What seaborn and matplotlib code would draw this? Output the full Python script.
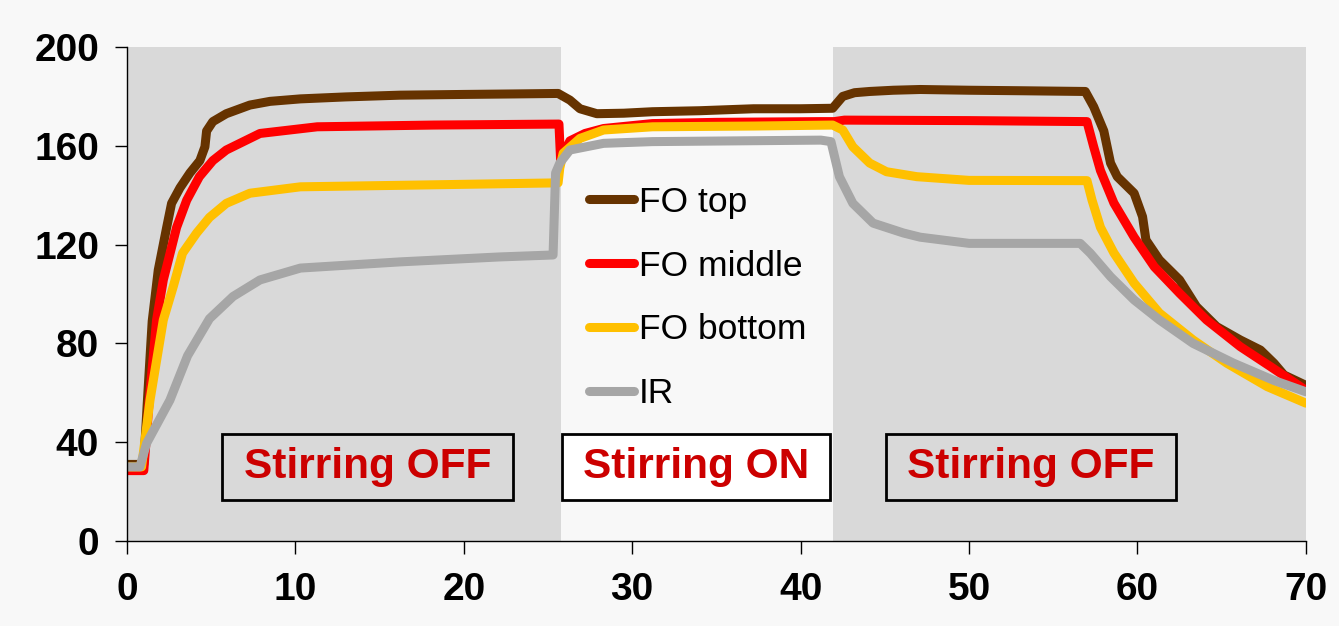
import matplotlib
matplotlib.use("Agg")
import pandas as pd
import matplotlib.pyplot as plt
import seaborn as sns
from matplotlib.patches import Rectangle

# ========== values (time [min], temperature) ==========
top_t = [0, 1.0, 1.2, 1.5, 1.86, 2.36, 2.65, 3.15, 3.74, 4.33, 4.63, 4.73, 5.1, 5.9, 7.3,
         8.5, 10.3, 13, 16.2, 20, 23, 25.6, 26.3, 26.9, 27.9, 29.5, 31.2, 34, 37.2, 40,
         41.9, 42.5, 43.2, 44.1, 45.5, 47.1, 50, 53, 56.9, 57.4, 58.0, 58.4, 58.8, 59.8,
         60.3, 60.5, 61.3, 62.5, 63.5, 64.7, 66.1, 67.3, 68.1, 68.7, 70]
top_v = [31, 31, 55, 89, 109.7, 127, 136.7, 143, 149, 154, 159.6, 166, 169.8, 173, 176.5,
         178, 179, 179.8, 180.5, 180.8, 181, 181.2, 178.5, 175, 173, 173.2, 173.8, 174.2, 175, 175,
         175.2, 180, 181.5, 182, 182.5, 182.8, 182.5, 182.3, 182, 175.8, 166, 153, 147.5, 140.8,
         131.3, 121.9, 113.8, 105.7, 94.9, 86.8, 81.4, 77.3, 72, 67.2, 63]

mid_t = [0, 1.0, 1.3, 1.76, 2.16, 2.95, 3.55, 4.3, 5.1, 5.9, 7.9, 11.3, 18.2, 25.65, 25.75,
         26.3, 27.2, 28.3, 31.2, 35, 41.2, 42.0, 42.6, 50, 57.0, 57.4, 57.8, 58.6, 59.8,
         61.0, 62.5, 64.1, 66.1, 67.9, 70]
mid_v = [28.5, 28.5, 55, 89.5, 105.7, 127, 138, 147.5, 154, 158.3, 165, 167.7, 168.4, 168.8, 154,
         162, 165, 167, 169, 169.5, 169.8, 169.8, 170.4, 170.2, 169.8, 159.6, 150, 136.8, 123,
         111, 100.3, 89.5, 78.7, 70.6, 61]

bot_t = [0, 0.87, 1.37, 2.16, 2.75, 3.3, 4.14, 4.9, 5.9, 7.3, 10.3, 16.2, 25.6, 25.7,
         25.9, 26.9, 28.3, 31.2, 37.2, 41.9, 42.5, 43.1, 44.1, 45.1, 46.9, 50, 57.0, 57.3,
         57.8, 58.6, 59.8, 61.3, 63.3, 65.3, 67.7, 70]
bot_v = [30, 30, 57, 89.5, 103, 116.5, 124.7, 131, 136.7, 140.8, 143.4, 144, 145, 151,
         157, 163, 166.4, 167.7, 168, 168.4, 166.4, 159.6, 153, 149.5, 147.5, 146, 145.9, 138,
         127, 116.6, 104.4, 92.3, 81.4, 72, 62.5, 55.8]

ir_t = [0, 0.77, 1.17, 2.55, 3.6, 4.9, 6.3, 7.9, 10.3, 16.2, 22.1, 25.3, 25.45, 25.7,
        26.3, 28.3, 31.2, 41.2, 41.8, 42.3, 43.1, 44.3, 46.1, 47.1, 50, 56.6, 57.2, 58.4,
        59.8, 61.3, 63.3, 65.7, 68.1, 70]
ir_v = [30, 30, 39.6, 57, 75, 90, 99, 105.7, 110.5, 113, 115, 115.8, 149, 153,
        158.3, 161, 161.7, 162.3, 161.7, 147.5, 136.7, 128.7, 124.7, 123, 120.5, 120.5, 116.5, 107,
        97.6, 89.5, 80, 72, 65, 60.4]

sensors = ["FO top", "FO middle", "FO bottom", "IR"]
colours = ["#663300", "#FF0000", "#FFC000", "#A6A6A6"]

phase_spans = [(0, 25.8), (25.8, 41.9), (41.9, 70)]
phase_labels = ["Stirring OFF", "Stirring ON", "Stirring OFF"]
phase_shaded = [True, False, True]

# ========== long-form table for seaborn ==========
frames = []
for name, t, v in zip(sensors, [top_t, mid_t, bot_t, ir_t], [top_v, mid_v, bot_v, ir_v]):
    frames.append(pd.DataFrame({"time": t, "temp": v, "sensor": name}))
df = pd.concat(frames, ignore_index=True)

# ========== plot ==========
sns.set_style("ticks")
plt.rcParams["font.family"] = ["Liberation Sans", "DejaVu Sans"]

bg = "#f8f8f8"
shade = "#d9d9d9"
fig = plt.figure(figsize=(13.39, 6.26), dpi=100, facecolor=bg)
ax = fig.add_axes([0.0948, 0.1358, 0.8805, 0.7891])
ax.set_facecolor(bg)

for (a, b), s in zip(phase_spans, phase_shaded):
    if s:
        ax.axvspan(a, b, color=shade, lw=0, zorder=0)

sns.lineplot(data=df, x="time", y="temp", hue="sensor", hue_order=sensors,
             palette=colours, estimator=None, sort=False, lw=6.5, ax=ax)

# phase label boxes (in data units)
box_x = [(5.64, 22.92), (25.83, 41.75), (45.07, 62.29)]
box_y = (16.6, 43.3)
for (x0, x1), lab, s in zip(box_x, phase_labels, phase_shaded):
    ax.add_patch(Rectangle((x0, box_y[0]), x1 - x0, box_y[1] - box_y[0],
                           facecolor=shade if s else "white", edgecolor="black",
                           lw=2, zorder=3))
    ax.text((x0 + x1) / 2, sum(box_y) / 2, lab, ha="center", va="center",
            fontsize=30.5, fontweight="bold", color="#CC0000", zorder=4)

ax.set_xlim(0, 70)
ax.set_ylim(0, 200)
ax.set_xticks(range(0, 71, 10))
ax.set_yticks(range(0, 201, 40))
ax.set_xlabel("")
ax.set_ylabel("")
ax.tick_params(direction="out", length=9, width=1, labelsize=28, colors="black")
ax.tick_params(axis="y", pad=11)
ax.tick_params(axis="x", pad=13)
for lbl in ax.get_xticklabels() + ax.get_yticklabels():
    lbl.set_fontweight("bold")
sns.despine(ax=ax)
for sp in ["left", "bottom"]:
    ax.spines[sp].set_color("black")
    ax.spines[sp].set_linewidth(1)

handles, labels = ax.get_legend_handles_labels()
ax.legend(handles, labels, loc="upper left", bbox_to_anchor=(0.392, 0.719),
          frameon=False, fontsize=25.5, handlelength=1.26, handletextpad=0.15,
          labelspacing=0.87, borderpad=0, borderaxespad=0, labelcolor="black")

fig.savefig("out.png", dpi=100, facecolor=bg)
